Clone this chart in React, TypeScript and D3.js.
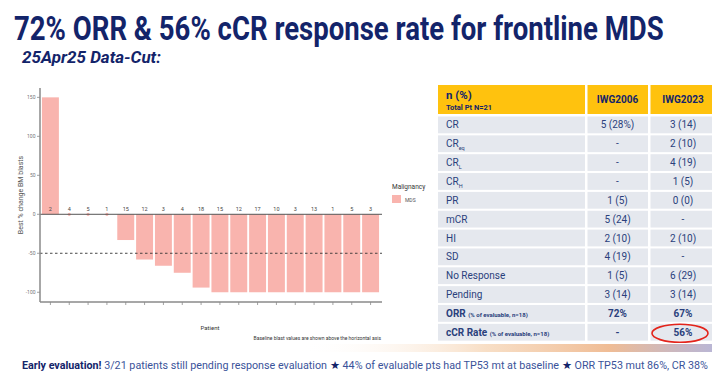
import React from "react";
import * as d3 from "d3";

const baselineBlasts = ["2","4","5","1","15","12","3","4","18","15","12","17","10","3","13","1","5","3"];
const bestChange = [150, 0, 0, 0, -33, -58, -66, -75, -94, -100, -100, -100, -100, -100, -100, -100, -100, -100];
const yTicks = [150, 100, 50, 0, -50, -100];

const tableHeader = ["IWG2006", "IWG2023"];
const rowLabels = ["CR", "CR|eq", "CR|L", "CR|H", "PR", "mCR", "HI", "SD", "No Response", "Pending", "ORR", "cCR Rate"];
const iwg2006 = ["5 (28%)", "-", "-", "-", "1 (5)", "5 (24)", "2 (10)", "4 (19)", "1 (5)", "3 (14)", "72%", "-"];
const iwg2023 = ["3 (14)", "2 (10)", "4 (19)", "1 (5)", "0 (0)", "-", "2 (10)", "-", "6 (29)", "3 (14)", "67%", "56%"];

const NAVY = "#13246a";
const TXT = "#2a3f7c";
const PINK = "#f9b4ae";
const FONT = "Roboto, 'Noto Sans', sans-serif";

export default function App() {
  const x = d3.scaleBand<number>().domain(d3.range(bestChange.length)).range([41, 380]).paddingInner(0.1).paddingOuter(0.05);
  const y = d3.scaleLinear().domain([-112.5, 162]).range([302, 88]);
  const axisX = 40;
  const axisRight = 382;

  const tableX = 438;
  const col1End = 585;
  const col2End = 648;
  const tableEnd = 712;
  const headTop = 85;
  const headH = 29;
  const rowTop = 116.5;
  const rowPitch = 18.85;
  const rowH = 16.8;

  const rowY = d3.scaleLinear().domain([0, 1]).range([rowTop, rowTop + rowPitch]);

  return (
    <svg width={712} height={372} style={{ position: "fixed", left: 0, top: 0, background: "#fff" }} fontFamily={FONT}>
      <defs>
        <linearGradient id="band" x1="0" x2="1" y1="0" y2="0">
          <stop offset="0" stopColor="#ffffff" stopOpacity="0" />
          <stop offset="0.45" stopColor="#f3c9a0" stopOpacity="0.6" />
          <stop offset="0.75" stopColor="#e9a068" stopOpacity="0.7" />
          <stop offset="1" stopColor="#8c86b8" stopOpacity="0.6" />
        </linearGradient>
      </defs>
      <rect x={0} y={0} width={712} height={372} fill="#fff" />
      <rect x={300} y={344} width={412} height={8} fill="url(#band)" />

      {/* Title */}
      <text transform="translate(14,40) scale(0.81,1)" fontSize={34} fontWeight={700} fill={NAVY}>
        72% ORR &amp; 56% cCR response rate for frontline MDS
      </text>
      <text x={22} y={63} fontSize={17} fontWeight={700} fontStyle="italic" fill={NAVY}>
        25Apr25 Data-Cut:
      </text>

      {/* Waterfall chart */}
      <g>
        {bestChange.map((v, i) => {
          const bx = x(i)!;
          if (v === 0) {
            return <circle key={i} cx={bx + x.bandwidth() / 2} cy={y(0)} r={1.6} fill={PINK} />;
          }
          return (
            <rect key={i} x={bx} y={Math.min(y(v), y(0))} width={x.bandwidth()} height={Math.abs(y(v) - y(0))} fill={PINK} />
          );
        })}
        <line x1={axisX} x2={axisRight} y1={y(0)} y2={y(0)} stroke="#555" strokeWidth={1} />
        <line x1={axisX} x2={axisRight} y1={y(-50)} y2={y(-50)} stroke="#333" strokeWidth={0.9} strokeDasharray="2.5,2.5" />
        {baselineBlasts.map((b, i) => (
          <text key={i} x={x(i)! + x.bandwidth() / 2} y={y(0) - 3} fontSize={5.5} fill="#444" textAnchor="middle">
            {b}
          </text>
        ))}
        {/* axes */}
        <line x1={axisX} x2={axisX} y1={88} y2={302} stroke="#8a8a8a" strokeWidth={1.5} />
        <line x1={axisX} x2={axisRight} y1={302} y2={302} stroke="#8a8a8a" strokeWidth={1.5} />
        {yTicks.map((t) => (
          <g key={t}>
            <line x1={axisX - 3} x2={axisX} y1={y(t)} y2={y(t)} stroke="#8a8a8a" strokeWidth={0.8} />
            <text x={axisX - 4.5} y={y(t) + 1.8} fontSize={5} fill="#777" textAnchor="end">{t}</text>
          </g>
        ))}
        {bestChange.map((_, i) => (
          <line key={i} x1={x(i)! + x.bandwidth() / 2} x2={x(i)! + x.bandwidth() / 2} y1={302} y2={305} stroke="#8a8a8a" strokeWidth={0.8} />
        ))}
        <text transform={`translate(23,195) rotate(-90)`} fontSize={7} fill="#555" textAnchor="middle">
          Best % change BM blasts
        </text>
        <text x={210} y={330} fontSize={6} fill="#333" textAnchor="middle">Patient</text>
        <text x={381} y={340} fontSize={5} fill="#333" textAnchor="end">
          Baseline blast values are shown above the horizontal axis
        </text>
        {/* legend */}
        <text x={392} y={189} fontSize={6.5} fill="#333">Malignancy</text>
        <rect x={392} y={195} width={9} height={8} fill={PINK} />
        <text x={405} y={201.5} fontSize={5} fill="#555">MDS</text>
      </g>

      {/* Table */}
      <g>
        <rect x={tableX} y={headTop} width={col1End - tableX} height={headH} fill="#ffc20e" />
        <rect x={col1End + 2.5} y={headTop} width={col2End - col1End - 2.5} height={headH} fill="#ffc20e" />
        <rect x={col2End + 2.5} y={headTop} width={tableEnd - col2End - 2.5} height={headH} fill="#ffc20e" />
        <text x={446} y={99} fontSize={11.5} fontWeight={700} fill={NAVY}>n (%)</text>
        <text x={446} y={109.5} fontSize={7.5} fontWeight={700} fill={NAVY}>Total Pt N=21</text>
        <text x={(col1End + col2End) / 2 + 1} y={103} fontSize={10} fontWeight={700} fill={NAVY} textAnchor="middle">{tableHeader[0]}</text>
        <text x={683} y={103} fontSize={10} fontWeight={700} fill={NAVY} textAnchor="middle">{tableHeader[1]}</text>

        {rowLabels.map((lab, i) => {
          const ry = rowY(i);
          const bold = i >= 10;
          const [main, sub] = lab.split("|");
          return (
            <g key={i}>
              <rect x={tableX} y={ry} width={col1End - tableX} height={rowH} fill="#e5e8ee" />
              <rect x={col1End + 2.5} y={ry} width={col2End - col1End - 2.5} height={rowH} fill="#e5e8ee" />
              <rect x={col2End + 2.5} y={ry} width={tableEnd - col2End - 2.5} height={rowH} fill="#e5e8ee" />
              <text x={446} y={ry + rowH / 2 + 3.5} fontSize={10} fontWeight={bold ? 700 : 400} fill={TXT}>
                {main}
                {sub && <tspan fontSize={5.5} dy={3}>{sub}</tspan>}
                {bold && <tspan fontSize={6} dx={2.5}>(% of  evaluable, n=18)</tspan>}
              </text>
              <text x={(col1End + col2End) / 2 + 1} y={ry + rowH / 2 + 3.5} fontSize={10} fontWeight={bold ? 700 : 400} fill={TXT} textAnchor="middle">
                {iwg2006[i]}
              </text>
              <text x={683} y={ry + rowH / 2 + 3.5} fontSize={10} fontWeight={bold ? 700 : 400} fill={TXT} textAnchor="middle">
                {iwg2023[i]}
              </text>
            </g>
          );
        })}
        <ellipse cx={680} cy={rowY(11) + rowH / 2 + 1} rx={28} ry={9} fill="none" stroke="#e3241b" strokeWidth={1.6} />
      </g>

      {/* Footer */}
      <text x={22} y={369} fontSize={10.5} fill="#3a539a" textLength={686} lengthAdjust="spacingAndGlyphs">
        <tspan fontWeight={700} fill={NAVY}>Early evaluation!</tspan>
        <tspan> 3/21 patients still pending response evaluation </tspan>
        <tspan fill={NAVY}> ★ </tspan>
        <tspan> 44% of evaluable pts had TP53 mt at baseline </tspan>
        <tspan fill={NAVY}> ★ </tspan>
        <tspan> ORR TP53 mut 86%, CR 38%</tspan>
      </text>
    </svg>
  );
}
